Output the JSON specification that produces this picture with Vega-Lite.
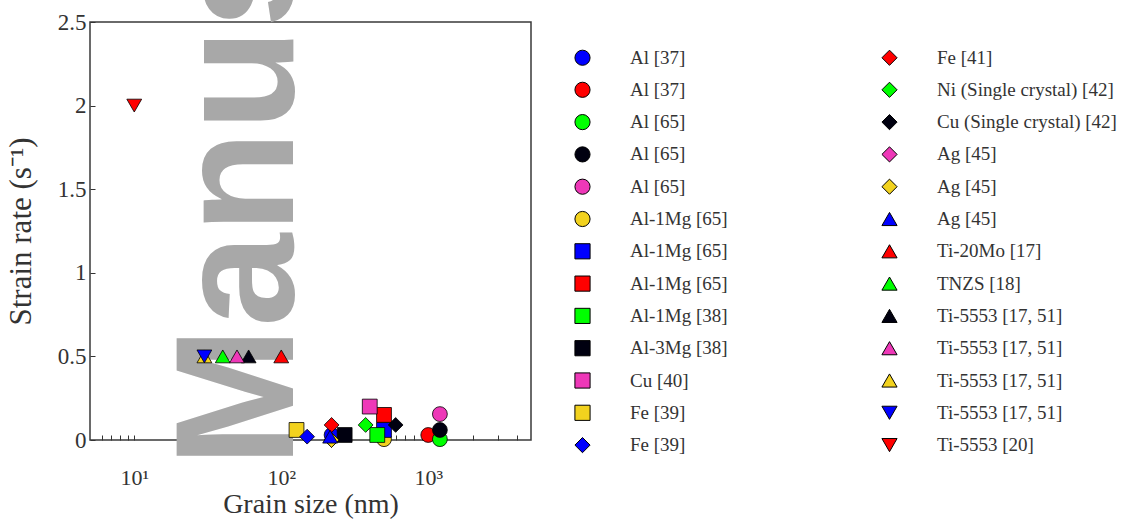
{
  "$schema": "https://vega.github.io/schema/vega-lite/v6.json",
  "width": 441,
  "height": 418,
  "autosize": "none",
  "padding": {"left": 90, "top": 22, "right": 596, "bottom": 80},
  "background": "white",
  "config": {
    "font": "Liberation Serif",
    "view": {"stroke": "#3a3a3a", "strokeWidth": 1.5},
    "axis": {
      "labelFont": "Liberation Serif",
      "titleFont": "Liberation Serif",
      "labelColor": "#333333",
      "titleColor": "#333333",
      "titleFontWeight": "normal",
      "domain": false,
      "grid": false,
      "tickColor": "#333333",
      "tickSize": -5,
      "labelFontSize": 22,
      "titleFontSize": 28
    },
    "legend": {
      "orient": "none",
      "legendX": 483,
      "legendY": 26,
      "columns": 2,
      "columnPadding": 151,
      "rowPadding": 11.3,
      "padding": 0,
      "labelFont": "Liberation Serif",
      "labelFontSize": 19,
      "labelColor": "#333333",
      "labelOffset": 38,
      "labelLimit": 400,
      "symbolSize": 230,
      "symbolStrokeColor": "black",
      "symbolStrokeWidth": 1,
      "symbolOpacity": 1
    }
  },
  "encoding": {
    "x": {
      "field": "x",
      "type": "quantitative",
      "scale": {"type": "log", "domain": [5, 5000], "nice": false},
      "axis": {
        "title": "Grain size (nm)",
        "values": [6, 7, 8, 9, 10, 20, 30, 40, 50, 60, 70, 80, 90, 100, 200, 300, 400, 500, 600, 700, 800, 900, 1000, 2000, 3000, 4000],
        "labelExpr": "datum.value == 10 ? '10¹' : datum.value == 100 ? '10²' : datum.value == 1000 ? '10³' : ''",
        "labelPadding": 32,
        "titlePadding": 2,
        "labelOverlap": false
      }
    },
    "y": {
      "field": "y",
      "type": "quantitative",
      "scale": {"domain": [0, 2.5], "nice": false, "zero": false},
      "axis": {
        "title": "Strain rate (s⁻¹)",
        "titleFontSize": 31,
        "values": [0, 0.5, 1, 1.5, 2, 2.5],
        "format": "~g",
        "labelFontSize": 23,
        "labelPadding": 9,
        "titlePadding": 20
      }
    }
  },
  "layer": [
    {
      "data": {"values": [{"x": 120, "y": -0.161, "text": "Manuscript"}]},
      "mark": {"type": "text", "angle": 270, "align": "left", "baseline": "alphabetic", "font": "Liberation Sans", "fontWeight": "bold", "fontSize": 168, "color": "#a8a8a8", "clip": false},
      "encoding": {"text": {"field": "text", "type": "nominal"}}
    },
    {
      "data": {"values": [
        {"s": "01", "material": "Al [37]", "x": 220, "y": 0.03},
        {"s": "02", "material": "Al [37]", "x": 1000, "y": 0.03},
        {"s": "03", "material": "Al [65]", "x": 1200, "y": 0.005},
        {"s": "04", "material": "Al [65]", "x": 1200, "y": 0.06},
        {"s": "05", "material": "Al [65]", "x": 1200, "y": 0.155},
        {"s": "06", "material": "Al-1Mg [65]", "x": 500, "y": 0.005},
        {"s": "07", "material": "Al-1Mg [65]", "x": 500, "y": 0.06},
        {"s": "08", "material": "Al-1Mg [65]", "x": 500, "y": 0.15},
        {"s": "09", "material": "Al-1Mg [38]", "x": 450, "y": 0.03},
        {"s": "10", "material": "Al-3Mg [38]", "x": 270, "y": 0.03},
        {"s": "11", "material": "Cu [40]", "x": 400, "y": 0.2},
        {"s": "12", "material": "Fe [39]", "x": 127, "y": 0.06},
        {"s": "13", "material": "Fe [39]", "x": 150, "y": 0.02},
        {"s": "14", "material": "Fe [41]", "x": 220, "y": 0.09},
        {"s": "15", "material": "Ni (Single crystal) [42]", "x": 375, "y": 0.09},
        {"s": "16", "material": "Cu (Single crystal) [42]", "x": 600, "y": 0.09},
        {"s": "17", "material": "Ag [45]", "x": 220, "y": 0.0},
        {"s": "18", "material": "Ag [45]", "x": 220, "y": 0.0},
        {"s": "19", "material": "Ag [45]", "x": 215, "y": 0.02},
        {"s": "20", "material": "Ti-20Mo [17]", "x": 100, "y": 0.5},
        {"s": "21", "material": "TNZS [18]", "x": 40, "y": 0.5},
        {"s": "22", "material": "Ti-5553 [17, 51]", "x": 60, "y": 0.5},
        {"s": "23", "material": "Ti-5553 [17, 51]", "x": 50, "y": 0.5},
        {"s": "24", "material": "Ti-5553 [17, 51]", "x": 30, "y": 0.5},
        {"s": "25", "material": "Ti-5553 [17, 51]", "x": 30, "y": 0.5},
        {"s": "26", "material": "Ti-5553 [20]", "x": 10, "y": 2.0}
      ]},
      "mark": {"type": "point", "filled": true, "stroke": "black", "strokeWidth": 0.8, "size": 220, "opacity": 1},
      "encoding": {
        "color": {
          "field": "s",
          "type": "nominal",
          "scale": {
            "domain": ["01","02","03","04","05","06","07","08","09","10","11","12","13","14","15","16","17","18","19","20","21","22","23","24","25","26"],
            "range": ["#0000ff","#ff0000","#00ff00","#000010","#ee38b8","#f2d21e","#0000ff","#ff0000","#00ff00","#000010","#ee38b8","#f2d21e","#0000ff","#ff0000","#00ff00","#000010","#ee38b8","#f2d21e","#0000ff","#ff0000","#00ff00","#000010","#ee38b8","#f2d21e","#0000ff","#ff0000"]
          },
          "legend": {
            "title": null,
            "labelExpr": "['Al [37]','Al [37]','Al [65]','Al [65]','Al [65]','Al-1Mg [65]','Al-1Mg [65]','Al-1Mg [65]','Al-1Mg [38]','Al-3Mg [38]','Cu [40]','Fe [39]','Fe [39]','Fe [41]','Ni (Single crystal) [42]','Cu (Single crystal) [42]','Ag [45]','Ag [45]','Ag [45]','Ti-20Mo [17]','TNZS [18]','Ti-5553 [17, 51]','Ti-5553 [17, 51]','Ti-5553 [17, 51]','Ti-5553 [17, 51]','Ti-5553 [20]'][toNumber(datum.value) - 1]",
            "symbolStrokeColor": "black",
            "symbolStrokeWidth": 1,
            "encode": {"symbols": {"update": {"stroke": {"value": "black"}, "strokeWidth": {"value": 1}}}}
          }
        },
        "shape": {
          "field": "s",
          "type": "nominal",
          "scale": {
            "domain": ["01","02","03","04","05","06","07","08","09","10","11","12","13","14","15","16","17","18","19","20","21","22","23","24","25","26"],
            "range": ["circle","circle","circle","circle","circle","circle","square","square","square","square","square","square","diamond","diamond","diamond","diamond","diamond","diamond","triangle-up","triangle-up","triangle-up","triangle-up","triangle-up","triangle-up","triangle-down","triangle-down"]
          },
          "legend": {
            "title": null,
            "labelExpr": "['Al [37]','Al [37]','Al [65]','Al [65]','Al [65]','Al-1Mg [65]','Al-1Mg [65]','Al-1Mg [65]','Al-1Mg [38]','Al-3Mg [38]','Cu [40]','Fe [39]','Fe [39]','Fe [41]','Ni (Single crystal) [42]','Cu (Single crystal) [42]','Ag [45]','Ag [45]','Ag [45]','Ti-20Mo [17]','TNZS [18]','Ti-5553 [17, 51]','Ti-5553 [17, 51]','Ti-5553 [17, 51]','Ti-5553 [17, 51]','Ti-5553 [20]'][toNumber(datum.value) - 1]",
            "symbolStrokeColor": "black",
            "symbolStrokeWidth": 1,
            "encode": {"symbols": {"update": {"stroke": {"value": "black"}, "strokeWidth": {"value": 1}}}}
          }
        }
      }
    }
  ]
}
